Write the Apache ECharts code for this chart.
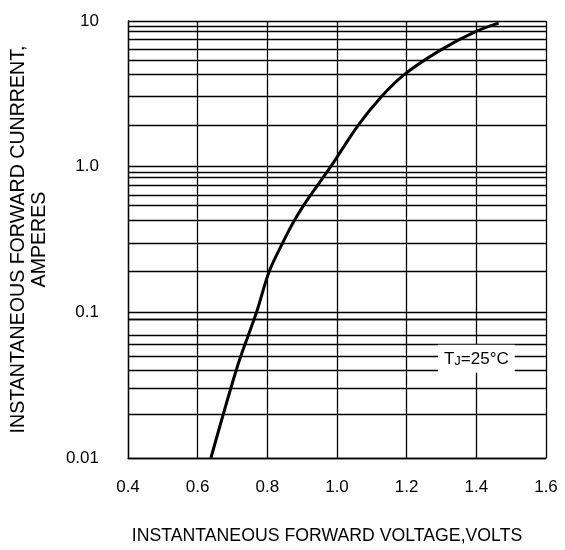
<!DOCTYPE html>
<html>
<head>
<meta charset="utf-8">
<script src="https://cdn.jsdelivr.net/npm/echarts@6/dist/echarts.min.js"></script>
<style>
  html, body { margin: 0; padding: 0; background: #fff; }
  #chart { width: 565px; height: 550px; }
</style>
</head>
<body>
<div id="chart"></div>
<script>
// forward voltage (V) vs instantaneous forward current (A)
const voltage = [0.638, 0.716, 0.769, 0.805, 0.845, 0.88, 0.924, 0.982, 1.059, 1.126, 1.192, 1.297, 1.399, 1.464];
const current = [0.01, 0.044, 0.1, 0.19, 0.303, 0.437, 0.637, 1.0, 1.9, 3.0, 4.27, 6.31, 8.48, 9.66];

const decades = [10, 1, 0.1];
// minor gridlines of the log paper, as fractions of each decade's top value
const minorSteps = [0.92, 0.85, 0.745, 0.64, 0.537, 0.434, 0.304, 0.191];
const yTickLabels = ['0.01', '0.1', '1.0', '10'];

const FONT = 'Liberation Sans, Arial, sans-serif';

const curveData = voltage.map((v, i) => [v, current[i]]);
const minorLines = [];
for (const d of decades) {
    for (const s of minorSteps) minorLines.push({ yAxis: d * s });
}

const chart = echarts.init(document.getElementById('chart'));
chart.setOption({
    animation: false,
    grid: { left: 126, right: 19, top: 21, bottom: 89 },
    xAxis: {
        type: 'value',
        min: 0.4,
        max: 1.6,
        interval: 0.2,
        name: 'INSTANTANEOUS FORWARD VOLTAGE,VOLTS',
        nameLocation: 'middle',
        nameGap: 69,
        nameTextStyle: { color: '#000', fontSize: 17.7, fontFamily: FONT, padding: [0, 20, 0, 0] },
        axisLine: { lineStyle: { color: '#000', width: 1.3 } },
        axisTick: { show: false },
        axisLabel: {
            color: '#000', fontSize: 17, fontFamily: FONT, margin: 21,
            formatter: v => v.toFixed(1)
        },
        splitLine: { show: true, lineStyle: { color: '#000', width: 1.3 } }
    },
    yAxis: {
        type: 'log',
        logBase: 10,
        min: 0.01,
        max: 10,
        name: 'INSTANTANEOUS FORWARD CUNRRENT,\nAMPERES',
        nameLocation: 'middle',
        nameRotate: 90,
        nameGap: 78,
        nameTextStyle: { color: '#000', fontSize: 19.6, fontFamily: FONT, lineHeight: 21, align: 'center' },
        axisLine: { show: true, lineStyle: { color: '#000', width: 1.3 } },
        axisTick: { show: false },
        axisLabel: {
            color: '#000', fontSize: 17, fontFamily: FONT, margin: 29,
            formatter: v => yTickLabels[Math.round(Math.log10(v)) + 2]
        },
        splitLine: { show: true, lineStyle: { color: '#000', width: 1.3 } }
    },
    series: [{
        type: 'line',
        data: curveData,
        smooth: 0.3,
        showSymbol: false,
        lineStyle: { color: '#000', width: 3 },
        markLine: {
            silent: true,
            symbol: 'none',
            label: { show: false },
            lineStyle: { color: '#000', width: 1.3, type: 'solid' },
            data: minorLines
        },
        markPoint: {
            silent: true,
            symbol: 'rect',
            symbolSize: 0,
            data: [{ coord: [1.4, 0.048] }],
            label: {
                show: true,
                position: 'inside',
                backgroundColor: '#fff',
                padding: [6, 6, 5, 6],
                formatter: '{a|T}{b|J}{a|=25°C}',
                rich: {
                    a: { color: '#000', fontSize: 17, fontFamily: FONT },
                    b: { color: '#000', fontSize: 13, fontFamily: FONT, verticalAlign: 'bottom' }
                }
            }
        }
    }]
});
</script>
</body>
</html>
